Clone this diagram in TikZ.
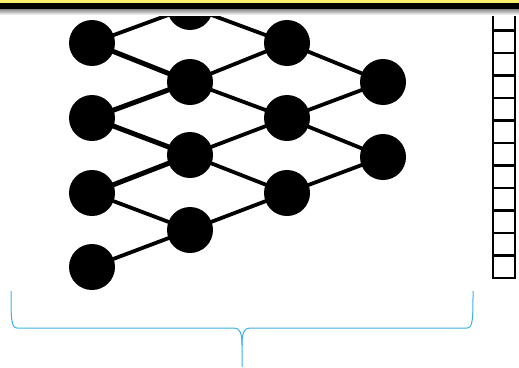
\documentclass[tikz,border=0pt]{standalone}
\usetikzlibrary{backgrounds}
\definecolor{braceblue}{RGB}{59,176,232}
\definecolor{baryellow}{RGB}{248,240,110}
\begin{document}
\begin{tikzpicture}[x=1pt,y=-1pt,
  neuron/.style={circle,fill=black,draw=none,minimum size=46pt,inner sep=0pt},
  link/.style={line width=3.8pt,black},
  thick link/.style={line width=5pt,black},
  cell/.style={draw=black,line width=2.5pt}]
\useasboundingbox (0,0) rectangle (519,367);
% neurons
\node[neuron] (a1) at (92,43) {};
\node[neuron] (a2) at (92,118) {};
\node[neuron] (a3) at (92,193) {};
\node[neuron] (a4) at (92,267) {};
\node[neuron] (b0) at (190,7) {};
\node[neuron] (b1) at (190,82) {};
\node[neuron] (b2) at (190,155) {};
\node[neuron] (b3) at (190,230) {};
\node[neuron] (c1) at (287,43) {};
\node[neuron] (c2) at (287,118) {};
\node[neuron] (c3) at (287,193) {};
\begin{scope}
\clip (300,0) rectangle (407,367);
\node[neuron] (d1) at (383,82) {};
\node[neuron] (d2) at (383,157) {};
\end{scope}
\begin{scope}[on background layer]
\draw[link] (a1.center) -- (b0.center);
\draw[thick link] (a1.center) -- (b1.center);
\draw[thick link] (a2.center) -- (b1.center);
\draw[thick link] (a2.center) -- (b2.center);
\draw[thick link] (a3.center) -- (b2.center);
\draw[link] (a3.center) -- (b3.center);
\draw[link] (a4.center) -- (b3.center);
\draw[link] (b0.center) -- (c1.center);
\draw[link] (b1.center) -- (c1.center);
\draw[link] (b1.center) -- (c2.center);
\draw[link] (b2.center) -- (c2.center);
\draw[link] (b2.center) -- (c3.center);
\draw[link] (b3.center) -- (c3.center);
\draw[link] (c1.center) -- (d1.center);
\draw[link] (c2.center) -- (d1.center);
\draw[link] (c2.center) -- (d2.center);
\draw[link] (c3.center) -- (d2.center);
\end{scope}
% column of cells
\foreach \i in {0,...,11} {
  \draw[cell] (493,{8+\i*22.5}) rectangle (515,{30.5+\i*22.5});
}
% top bar
\shade[top color=black!55,bottom color=white] (0,8) rectangle (519,15);
\fill[black] (0,3) rectangle (519,8.5);
\fill[baryellow] (0,0) rectangle (519,3);
% brace
\coordinate (bl) at (11,291);
\coordinate (br) at (473,291);
\coordinate (bt) at (242,367);
\draw[braceblue,line width=1pt]
  (bl) .. controls (11,318) and (11,328) .. (17,328)
  -- (234,328) .. controls (240,328) and (242,333) .. (242,345) -- (bt);
\draw[braceblue,line width=1pt]
  (br) .. controls (473,318) and (473,328) .. (467,328)
  -- (250,328) .. controls (244,328) and (242,333) .. (242,345);
\end{tikzpicture}
\end{document}
